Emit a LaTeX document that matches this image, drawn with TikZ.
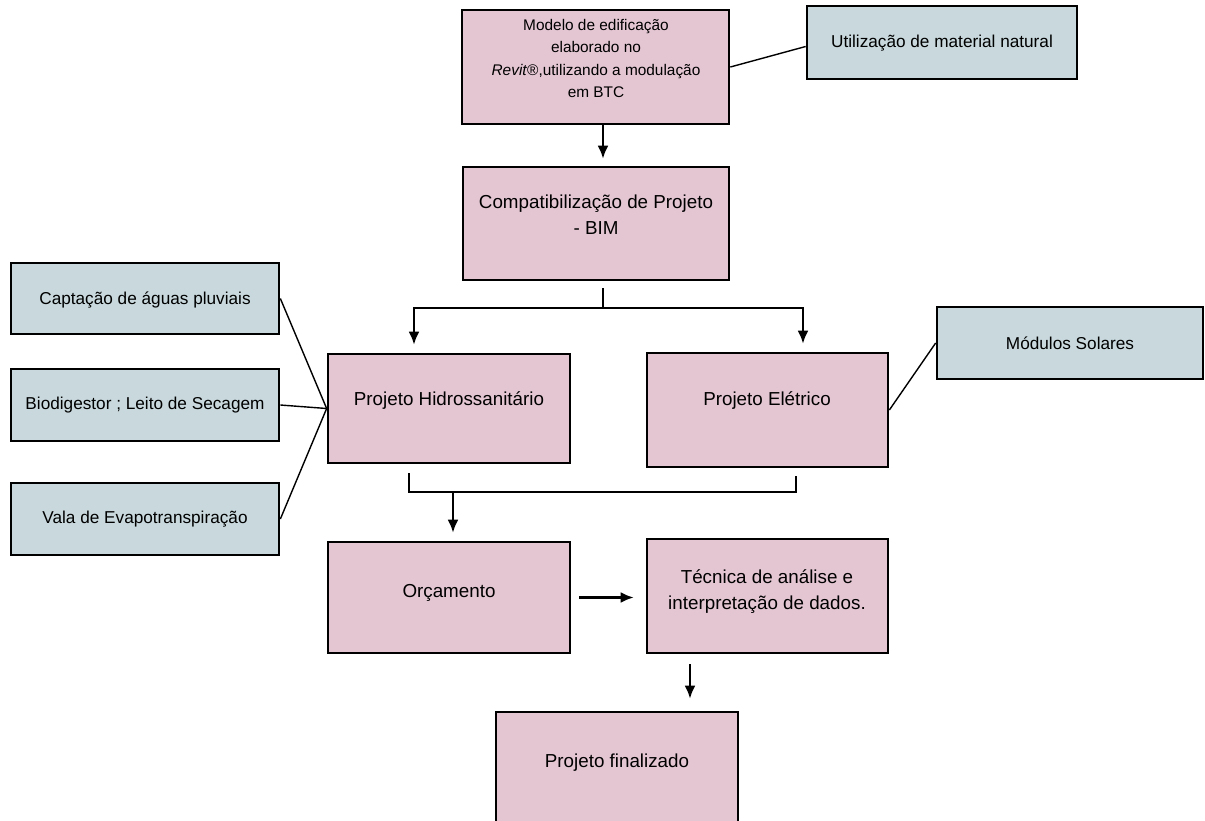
\documentclass[tikz,border=0pt]{standalone}
\usepackage{fontspec}
\setmainfont{Liberation Sans}
\usetikzlibrary{arrows.meta}
\definecolor{boxpink}{RGB}{228,198,210}
\definecolor{boxblue}{RGB}{200,216,220}
\tikzset{
  pbox/.style={draw=black, line width=2.7pt, fill=boxpink, inner sep=0pt},
  bbox/.style={draw=black, line width=2.7pt, fill=boxblue, inner sep=0pt},
  txt/.style={font=\fontsize{18.8}{26}\selectfont, align=center, inner sep=0pt},
  btxt/.style={font=\fontsize{17.2}{24}\selectfont, align=center, inner sep=0pt},
  stxt/.style={font=\fontsize{15.4}{22.4}\selectfont, align=center, inner sep=0pt},
  arr/.style={line width=2.2pt, -{Latex[length=13pt,width=11pt]}},
  conn/.style={line width=2.2pt},
  assoc/.style={line width=1.4pt},
}
\begin{document}
\begin{tikzpicture}[x=1pt,y=-1pt]
\useasboundingbox (0,0) rectangle (1205,820);
% boxes
\node[pbox, minimum width=267pt, minimum height=114pt] (modelo) at (595.5,67) {};
\node[bbox, minimum width=270pt, minimum height=73pt] (util) at (942,42.5) {};
\node[pbox, minimum width=266pt, minimum height=113pt] (compat) at (596,223.5) {};
\node[pbox, minimum width=242pt, minimum height=109pt] (hidro) at (449,408.5) {};
\node[pbox, minimum width=241pt, minimum height=114pt] (eletr) at (767.5,410) {};
\node[bbox, minimum width=266pt, minimum height=72pt] (modul) at (1070,343) {};
\node[bbox, minimum width=268pt, minimum height=71pt] (capt) at (145,298.5) {};
\node[bbox, minimum width=268pt, minimum height=72pt] (bio) at (145,405) {};
\node[bbox, minimum width=268pt, minimum height=72pt] (vala) at (145,519) {};
\node[pbox, minimum width=242pt, minimum height=111pt] (orc) at (449,597.5) {};
\node[pbox, minimum width=241pt, minimum height=114pt] (tec) at (767.5,596) {};
\node[pbox, minimum width=242pt, minimum height=128pt] (final) at (617,776) {};
% texts
\node[stxt] (modelo-t) at (596,58.5) {Modelo de edificação\\elaborado no\\\textit{Revit}®,utilizando a modulação\\em BTC};
\node[btxt] (util-t) at (942,43) {Utilização de material natural};
\node[txt] (compat-t) at (596,215) {Compatibilização de Projeto\\- BIM};
\node[txt] (hidro-t) at (449,401) {Projeto Hidrossanitário};
\node[txt] (eletr-t) at (767,401) {Projeto Elétrico};
\node[btxt] (modul-t) at (1070,343) {Módulos Solares};
\node[btxt] (capt-t) at (145,300) {Captação de águas pluviais};
\node[btxt] (bio-t) at (145,405) {Biodigestor ; Leito de Secagem};
\node[btxt] (vala-t) at (145,519) {Vala de Evapotranspiração};
\node[txt] (orc-t) at (449,593) {Orçamento};
\node[txt] (tec-t) at (767,591.5) {Técnica de análise e\\interpretação de dados.};
\node[txt] (final-t) at (617,763) {Projeto finalizado};
% helper coordinates
\coordinate (sp) at (603,308);
\coordinate (spl) at (414,308);
\coordinate (spr) at (803,308);
\coordinate (jl) at (409,492);
\coordinate (jr) at (796,492);
\coordinate (jm) at (453,492);
\coordinate (tf) at (690,0);
% connectors
\draw[arr, shorten >=7pt] (modelo.south -| sp) -- (compat.north -| sp);
\draw[conn, shorten <=7pt] (compat.south -| sp) -- (sp);
\draw[arr, shorten >=8pt] (sp) -| (hidro.north -| spl);
\draw[arr, shorten >=8pt] (sp) -| (eletr.north -| spr);
\draw[conn, shorten <=9pt, shorten >=8pt] (hidro.south -| jl) -- (jl) -- (jr) -- (eletr.south -| jr);
\draw[arr, shorten >=8pt] (jm) -- (orc.north -| jm);
\draw[arr, shorten <=8pt, shorten >=12pt] (orc.east) -- (tec.west |- orc.east);
\draw[arr, shorten <=10pt, shorten >=12pt] (tec.south -| tf) -- (final.north -| tf);
% association lines
\draw[assoc] (modelo.east) -- ([yshift=-4pt]util.west);
\draw[assoc] (capt.east) -- (hidro.west);
\draw[assoc] (bio.east) -- (hidro.west);
\draw[assoc] (vala.east) -- (hidro.west);
\draw[assoc] (eletr.east) -- (modul.west);
\end{tikzpicture}
\end{document}
